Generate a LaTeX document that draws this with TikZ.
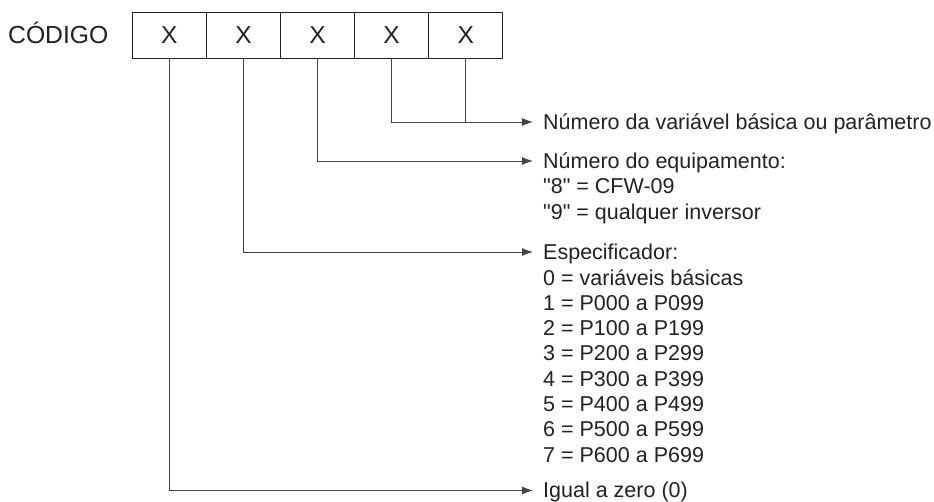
\documentclass[tikz,border=0pt]{standalone}
\usepackage{fontspec}
\setmainfont{Liberation Sans}[Ligatures=TeXOff]
\usetikzlibrary{arrows.meta}
\definecolor{ink}{HTML}{222222}
\tikzset{
  cell/.style={draw=ink, line width=0.9pt, minimum width=74.1pt, minimum height=46pt, inner sep=0pt, font=\fontsize{24.5}{28}\selectfont, text=ink},
  conn/.style={draw=ink!85, line width=0.9pt},
  arr/.style={conn, -{Latex[length=11pt,width=8pt]}},
  lbl/.style={anchor=base west, align=left, inner sep=0pt, text=ink, font=\fontsize{21.5}{25.3}\selectfont},
}
\begin{document}
\begin{tikzpicture}[x=1pt,y=-1pt]
\useasboundingbox (0,0) rectangle (934,502);
\node[anchor=base west, inner sep=0pt, text=ink, font=\fontsize{24.7}{28}\selectfont] (cod) at (8,43.5) {CÓDIGO};
\node[cell] (b1) at (169.35,35) {X};
\node[cell] (b2) at (243.45,35) {X};
\node[cell] (b3) at (317.55,35) {X};
\node[cell] (b4) at (391.65,35) {X};
\node[cell] (b5) at (465.75,35) {X};

\coordinate (e4) at (533,122);
\coordinate (e3) at (533,161);
\coordinate (e2) at (533,252);
\coordinate (e1) at (533,490.5);

% base anchor of a multi-line node is the baseline of its last line
\node[lbl] (l4) at (543,129.7) {Número da variável básica ou parâmetro};
\node[lbl] (l3) at (543,168.7+2*25.3) {Número do equipamento:\\"8" = CFW-09\\"9" = qualquer inversor};
\node[lbl] (l2) at (543,259.7+8*25.3) {Especificador:\\0 = variáveis básicas\\1 = P000 a P099\\2 = P100 a P199\\3 = P200 a P299\\4 = P300 a P399\\5 = P400 a P499\\6 = P500 a P599\\7 = P600 a P699};
\node[lbl] (l1) at (543,497.8) {Igual a zero (0)};

\draw[arr] (b4.south) |- (e4);
\draw[conn] (b5.south) -- (b5.south |- e4);
\draw[arr] (b3.south) |- (e3);
\draw[arr] (b2.south) |- (e2);
\draw[arr] (b1.south) |- (e1);
\end{tikzpicture}
\end{document}
